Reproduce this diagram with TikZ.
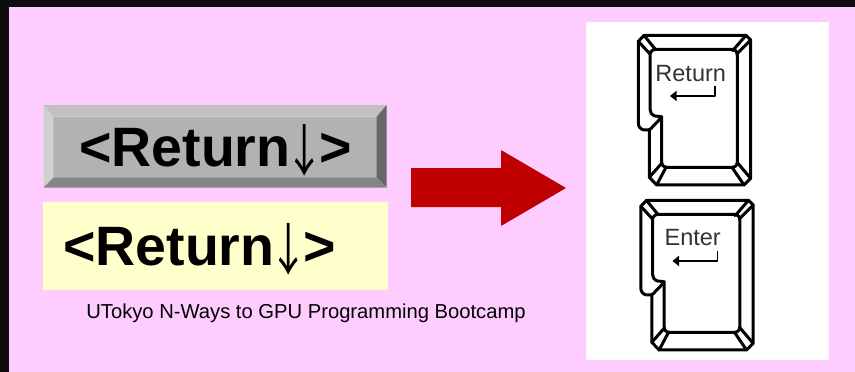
\documentclass[tikz,border=0pt]{standalone}
\usepackage{graphicx}
\usepackage{fontspec}
\setmainfont{Liberation Sans}
\newfontfamily\arrowfont{Noto Sans CJK JP}
\definecolor{pinkbg}{HTML}{FFCCFF}
\definecolor{darkbg}{HTML}{0D0D0D}
\definecolor{face}{HTML}{B2B2B2}
\definecolor{btop}{HTML}{C1C1C1}
\definecolor{bleft}{HTML}{D0D0D0}
\definecolor{bright}{HTML}{666666}
\definecolor{bbottom}{HTML}{858585}
\definecolor{paleyellow}{HTML}{FFFFCC}
\definecolor{bigred}{HTML}{C00000}
\newcommand{\tallarrow}{\makebox[28.6pt]{\raisebox{-5pt}{\fontsize{56}{60}\selectfont\arrowfont\mdseries\scalebox{0.72}[1]{↓}}}}
\tikzset{
  bigtext/.style={inner sep=0pt,font=\fontsize{55.5}{60}\selectfont\bfseries,text=black},
  keytext/.style={inner sep=0pt,font=\fontsize{23.5}{26}\selectfont,text=black!80},
  keyline/.style={draw=black,line width=3pt,line join=round,line cap=round},
  keythin/.style={draw=black,line width=1.6pt,line join=round},
}
\newcommand{\keycap}[1]{%
\begin{scope}[shift={#1},x=0.3333pt,y=-0.3333pt]
  \path[keyline,fill=white]
    (72,46) -- (378,46) -- (392,60) -- (392,475) -- (372,495) -- (110,495) -- (88,472) -- (88,330)
    -- (72,330) .. controls (62,328) and (55,320) .. (55,310) -- (55,64) -- cycle;
  \path[keyline]
    (108,88) -- (335,88) .. controls (346,88) and (352,95) .. (352,106) -- (352,424)
    .. controls (352,436) and (346,442) .. (335,442) -- (142,442)
    .. controls (131,442) and (125,436) .. (125,424) -- (125,290)
    -- (105,288) .. controls (95,284) and (90,278) .. (90,268) -- (90,106)
    .. controls (90,95) and (97,88) .. (108,88) -- cycle;
  \path[keyline] (125,292) -- (100,318) .. controls (96,324) and (90,328) .. (86,330);
  \path[keyline] (72,46) -- (106,88);
  \path[keyline] (55,64) -- (90,102);
  \path[keyline] (378,46) -- (338,92);
  \path[keyline] (392,60) -- (350,102);
  \path[keyline] (352,428) -- (392,475);
  \path[keyline] (336,442) -- (372,495);
  \path[keyline] (125,430) -- (88,472);
  \path[keyline] (138,442) -- (110,495);
  \path[keythin] (285,198) -- (285,228) -- (165,228);
  \fill[black] (150,228) -- (170,212) -- (170,244) -- cycle;
\end{scope}}
\begin{document}
\begin{tikzpicture}[x=1pt,y=-1pt]
  \useasboundingbox (0,0) rectangle (855,372);
  \fill[darkbg] (0,0) rectangle (855,372);
  \fill[pinkbg] (9,7) rectangle (855,372);
  % bevel button
  \fill[face] (53.3,116.7) rectangle (376.7,177.7);
  \fill[btop] (43.5,105) -- (386.7,105) -- (376.7,116.7) -- (53.3,116.7) -- cycle;
  \fill[bleft] (43.5,105) -- (53.3,116.7) -- (53.3,177.7) -- (43.5,187.7) -- cycle;
  \fill[bright] (386.7,105) -- (386.7,187.7) -- (376.7,177.7) -- (376.7,116.7) -- cycle;
  \fill[bbottom] (43.5,187.7) -- (53.3,177.7) -- (376.7,177.7) -- (386.7,187.7) -- cycle;
  \node[bigtext,anchor=base west] (btn) at (79,166) {<Return\tallarrow>};
  % yellow box
  \fill[paleyellow] (43,202) rectangle (388,290);
  \node[bigtext,anchor=base west] (yel) at (63,265) {<Return\tallarrow>};
  % caption
  \node[inner sep=0pt,font=\fontsize{20.2}{24}\selectfont,text=black] (cap) at (306,313) {UTokyo N-Ways to GPU Programming Bootcamp};
  % red arrow
  \fill[bigred] (411,168) -- (501,168) -- (501,150) -- (566,188) -- (501,226) -- (501,207) -- (411,207) -- cycle;
  % white panel
  \fill[white] (586,22) rectangle (829,360);
  \keycap{(620,20)}
  \keycap{(622.5,185)}
  \node[keytext] (ret) at (690.7,73.3) {Return};
  \node[keytext] (ent) at (692.7,237.7) {Enter};
\end{tikzpicture}
\end{document}
